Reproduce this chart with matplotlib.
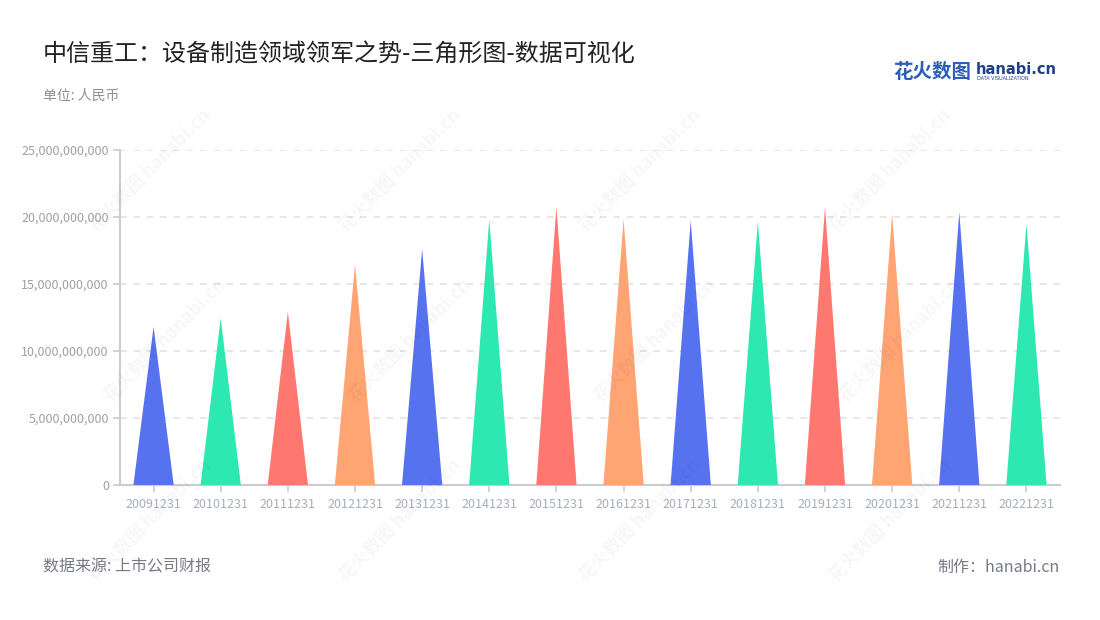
import matplotlib
matplotlib.use("Agg")
import matplotlib.pyplot as plt
from matplotlib.ticker import FuncFormatter, MultipleLocator

plt.rcParams['font.family'] = ['Noto Sans CJK SC', 'DejaVu Sans']

categories = ["20091231", "20101231", "20111231", "20121231", "20131231", "20141231", "20151231",
              "20161231", "20171231", "20181231", "20191231", "20201231", "20211231", "20221231"]
values = [11.8e9, 12.45e9, 12.93e9, 16.45e9, 17.6e9, 19.83e9, 20.75e9,
          19.83e9, 19.72e9, 19.65e9, 20.72e9, 20.22e9, 20.37e9, 19.5e9]
palette = ["#5672EE", "#2DE8B0", "#FF7870", "#FFA472"]

title = "中信重工：设备制造领域领军之势-三角形图-数据可视化"
unit = "单位: 人民币"
source = "数据来源: 上市公司财报"
maker = "制作：hanabi.cn"

fig = plt.figure(figsize=(11, 6.2), dpi=100)
ax = fig.add_axes([120/1100, 1-485/620, 940/1100, 335/620])

half = 0.3
for i, v in enumerate(values):
    ax.fill([i - half, i, i + half], [0, v, 0], color=palette[i % 4], lw=0, zorder=3)

ax.set_xlim(-0.5, len(categories) - 0.5)
ax.set_ylim(0, 25e9)
ax.yaxis.set_major_locator(MultipleLocator(5e9))
ax.yaxis.set_major_formatter(FuncFormatter(lambda x, p: f"{int(round(x)):,}"))
ax.set_xticks(range(len(categories)))
ax.set_xticklabels(categories)
ax.grid(axis='y', color='#e3e3e3', linestyle=(0, (4, 4)), linewidth=1.2, zorder=0)
for s in ['top', 'right']:
    ax.spines[s].set_visible(False)
for s in ['left', 'bottom']:
    ax.spines[s].set_color('#cccccc')
    ax.spines[s].set_linewidth(1.5)
ax.tick_params(axis='y', colors='#cccccc', labelcolor='#a0a0a0', labelsize=9, length=5, width=1.2, pad=3)
ax.tick_params(axis='x', colors='#cccccc', labelcolor='#a8adbd', labelsize=9, length=5, width=1.2, pad=4)
for lbl in ax.get_xticklabels() + ax.get_yticklabels():
    lbl.set_family(['Noto Sans CJK SC', 'DejaVu Sans'])

# watermarks
for (x, y) in [(150, 170), (400, 170), (640, 170), (890, 170),
               (165, 340), (410, 340), (655, 340), (900, 340),
               (150, 520), (400, 520), (640, 520), (890, 520)]:
    fig.text(x/1100, 1-y/620, "花火数图 hanabi.cn", rotation=45, fontsize=13, color='#000000',
             alpha=0.035, ha='center', va='center', fontweight='bold')

fig.text(43/1100, 1-55/620, title, fontsize=17.3, color='#222222', va='center', ha='left')
fig.text(43/1100, 1-96/620, unit, fontsize=10, color='#8a8f99', va='center', ha='left')
fig.text(43/1100, 1-567/620, source, fontsize=11.5, color='#777a85', va='center', ha='left')
fig.text(1060/1100, 1-567/620, maker, fontsize=11.5, color='#777a85', va='center', ha='right')

# logo
fig.text(893/1100, 1-72/620, "花火数图", fontsize=14, color='#2d5fb8', fontweight='bold', va='center', ha='left')
fig.text(976/1100, 1-69/620, "hanabi.cn", fontsize=10.5, color='#1f3f8a', fontweight='bold', va='center', ha='left',
         family=['DejaVu Sans'])
fig.text(977/1100, 1-79/620, "DATA VISUALIZATION", fontsize=3.5, color='#1f3f8a', va='center', ha='left',
         family=['DejaVu Sans'])

fig.savefig("out.png", dpi=100, facecolor='white')
